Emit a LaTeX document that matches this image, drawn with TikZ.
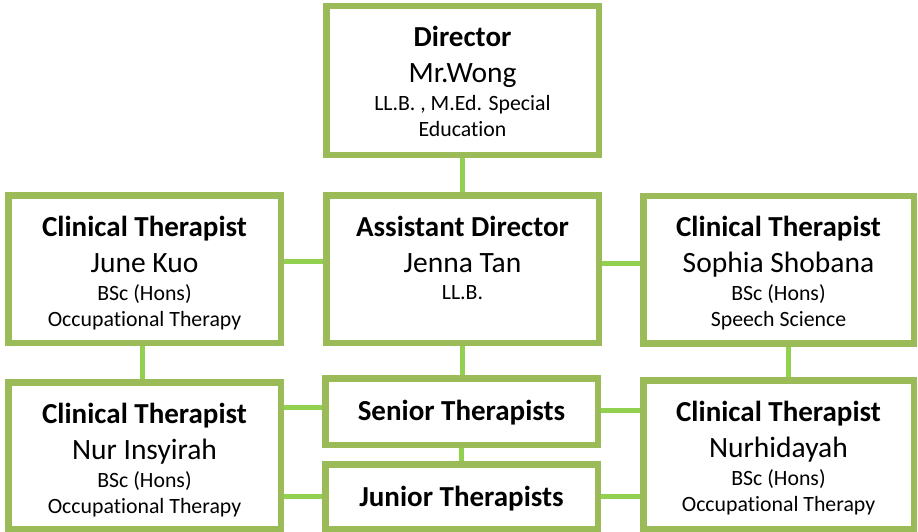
\documentclass[tikz,border=0pt]{standalone}
\usepackage{fontspec}
\setmainfont{Carlito}[Ligatures={NoCommon}]
\definecolor{boxgreen}{HTML}{9BBB59}
\definecolor{linegreen}{HTML}{92D050}
\begin{document}
\begin{tikzpicture}[x=1pt,y=-1pt,
  box/.style={draw=boxgreen,line width=6.5pt,fill=white,inner sep=0pt,minimum width=272.5pt},
  conn/.style={draw=linegreen,line width=5pt},
  ttl/.style={anchor=base,inner sep=0pt,font=\fontsize{29}{34}\selectfont\bfseries},
  nm/.style={anchor=base,inner sep=0pt,font=\fontsize{29.5}{34}\selectfont},
  ql/.style={anchor=base,inner sep=0pt,font=\fontsize{21.8}{26}\selectfont}]
\useasboundingbox (0,0) rectangle (918,532);
% boxes
\node[box,minimum height=148.5pt] (dir) at (462.5,80.5) {};
\node[box,minimum height=147.5pt] (ad) at (462.5,269) {};
\node[box,minimum height=147.5pt] (june) at (144.5,269) {};
\node[box,minimum width=270.5pt,minimum height=147.5pt] (sophia) at (778.5,269.5) {};
\node[box,minimum height=66.5pt] (senior) at (461.5,411.5) {};
\node[box,minimum height=64.5pt] (junior) at (461.5,496.5) {};
\node[box,minimum height=146.5pt] (nur) at (144.5,455.5) {};
\node[box,minimum width=270.5pt,minimum height=148.5pt] (nurh) at (778.5,454.5) {};
% texts
\node[ttl] (dir-t) at ([yshift=-44pt]dir.north) {Director};
\node[nm] (dir-n) at ([yshift=-80pt]dir.north) {Mr.Wong};
\node[ql] (dir-q1) at ([yshift=-108pt]dir.north) {LL.B. , M.Ed. Special};
\node[ql] (dir-q2) at ([yshift=-134pt]dir.north) {Education};
\node[ttl] (ad-t) at ([yshift=-44pt]ad.north) {Assistant Director};
\node[nm] (ad-n) at ([yshift=-80pt]ad.north) {Jenna Tan};
\node[ql] (ad-q1) at ([yshift=-107pt]ad.north) {LL.B.};
\node[ttl] (june-t) at ([yshift=-44pt]june.north) {Clinical Therapist};
\node[nm] (june-n) at ([yshift=-80pt]june.north) {June Kuo};
\node[ql] (june-q1) at ([yshift=-108pt]june.north) {BSc (Hons)};
\node[ql] (june-q2) at ([yshift=-134pt]june.north) {Occupational Therapy};
\node[ttl] (sophia-t) at ([yshift=-44pt]sophia.north) {Clinical Therapist};
\node[nm] (sophia-n) at ([yshift=-80pt]sophia.north) {Sophia Shobana};
\node[ql] (sophia-q1) at ([yshift=-108pt]sophia.north) {BSc (Hons)};
\node[ql] (sophia-q2) at ([yshift=-134pt]sophia.north) {Speech Science};
\node[ttl] (nur-t) at ([yshift=-44pt]nur.north) {Clinical Therapist};
\node[nm] (nur-n) at ([yshift=-80pt]nur.north) {Nur Insyirah};
\node[ql] (nur-q1) at ([yshift=-108pt]nur.north) {BSc (Hons)};
\node[ql] (nur-q2) at ([yshift=-134pt]nur.north) {Occupational Therapy};
\node[ttl] (nurh-t) at ([yshift=-44pt]nurh.north) {Clinical Therapist};
\node[nm] (nurh-n) at ([yshift=-80pt]nurh.north) {Nurhidayah};
\node[ql] (nurh-q1) at ([yshift=-108pt]nurh.north) {BSc (Hons)};
\node[ql] (nurh-q2) at ([yshift=-134pt]nurh.north) {Occupational Therapy};
\node[ttl] (senior-t) at ([yshift=-45pt]senior.north) {Senior Therapists};
\node[ttl] (junior-t) at ([yshift=-45pt]junior.north) {Junior Therapists};
% connectors
\draw[conn] (dir.south) -- (dir.south |- ad.north);
\draw[conn] ([yshift=8pt]june.east) -- ([yshift=8pt]june.east -| ad.west);
\draw[conn] ([yshift=6pt]ad.east) -- ([yshift=6pt]ad.east -| sophia.west);
\draw[conn] ([xshift=-2.5pt]june.south) -- ([xshift=-2.5pt]june.south |- nur.north);
\draw[conn] ([xshift=9.5pt]sophia.south) -- ([xshift=9.5pt]sophia.south |- nurh.north);
\draw[conn] (ad.south) -- (ad.south |- senior.north);
\draw[conn] (senior.south) -- (senior.south |- junior.north);
\draw[conn] ([yshift=4pt]senior.west) -- ([yshift=4pt]senior.west -| nur.east);
\draw[conn] ([yshift=1.5pt]senior.east) -- ([yshift=1.5pt]senior.east -| nurh.west);
\draw[conn] (junior.west) -- (junior.west -| nur.east);
\draw[conn] (junior.east) -- (junior.east -| nurh.west);
\end{tikzpicture}
\end{document}
